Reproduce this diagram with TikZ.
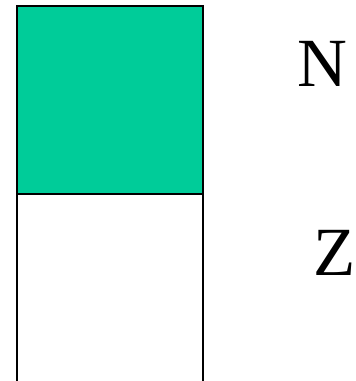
\documentclass[tikz,border=0pt]{standalone}
\usepackage{fontspec}
\setmainfont{Liberation Serif}
\definecolor{boxgreen}{RGB}{0,204,153}
\begin{document}
\begin{tikzpicture}[x=1pt,y=1pt,
  cell/.style={draw=black,line width=2pt},
  letter/.style={inner sep=0pt,font=\fontsize{69}{69}\selectfont}]
\useasboundingbox (0,0) rectangle (356,381);
\fill[white] (0,0) rectangle (356,381);
\path[cell,fill=boxgreen] (17,374.5) rectangle (203,187) coordinate (m);
\draw[cell] (17,-5) -- (17,187) -- (203,187) -- (203,-5);
\node[letter] (N) at (322,317) {N};
\node[letter] (Z) at (334.5,128.5) {Z};
\end{tikzpicture}
\end{document}
